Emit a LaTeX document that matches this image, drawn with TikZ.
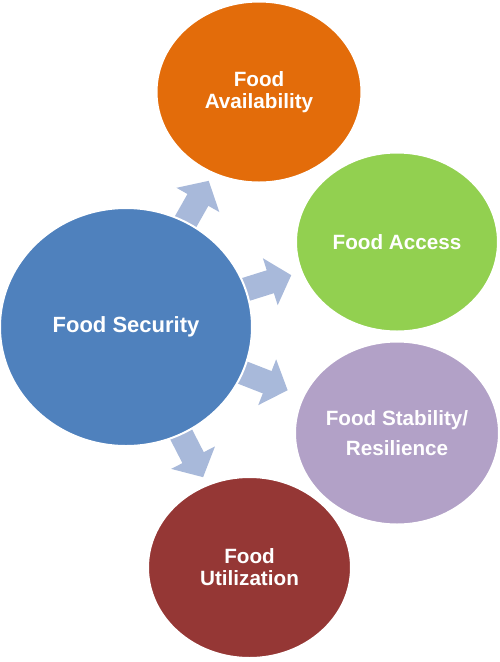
\documentclass[tikz,border=0pt]{standalone}
\usepackage{fontspec}
\setmainfont{Liberation Sans}
\usepackage{tikz}
\usetikzlibrary{arrows.meta}
\usetikzlibrary{shapes.geometric}
\usetikzlibrary{backgrounds}

\definecolor{secblue}{RGB}{79,129,189}
\definecolor{availorange}{RGB}{227,108,10}
\definecolor{accessgreen}{RGB}{146,208,80}
\definecolor{stabpurple}{RGB}{178,161,199}
\definecolor{utilred}{RGB}{149,55,53}
\definecolor{arrowblue}{RGB}{168,185,218}

\tikzset{
  pillar/.style={ellipse, draw=white, line width=1.5pt, inner sep=0pt, align=center,
    text=white, font=\bfseries\fontsize{15.5}{16.5}\selectfont,
    minimum width=153pt, minimum height=137pt},
  flow/.style={arrowblue, line width=18pt, -{Triangle[length=16.5pt,width=36pt]},
    shorten <=-6pt, shorten >=6pt}
}

\begin{document}
\begin{tikzpicture}[x=0.75pt,y=-0.75pt]
\useasboundingbox (0,0) rectangle (500,662);

\node[pillar, fill=secblue, minimum width=189pt, minimum height=178.5pt,
  font=\bfseries\fontsize{16.5}{18}\selectfont] (sec) at (126,327) {Food Security};
\node[pillar, fill=availorange, minimum width=153.75pt, minimum height=135.75pt] (avail) at (259,92) {Food\\Availability};
\node[pillar, fill=accessgreen, minimum width=151.5pt, minimum height=134.25pt] (access) at (397,242) {Food Access};
\node[pillar, fill=stabpurple, minimum width=153pt, minimum height=137.25pt,
  font=\bfseries\fontsize{15.5}{23}\selectfont] (stab) at (397,433) {Food Stability/\\Resilience};
\node[pillar, fill=utilred, minimum width=152.25pt, minimum height=135.75pt] (util) at (249.5,567.5) {Food\\Utilization};

\begin{scope}[on background layer]
\draw[flow] (sec) -- (avail);
\draw[flow, shorten >=7.5pt] (sec) -- (access);
\draw[flow, shorten >=12pt] (sec) -- (stab);
\draw[flow] (sec) -- (util);
\end{scope}

\end{tikzpicture}
\end{document}
